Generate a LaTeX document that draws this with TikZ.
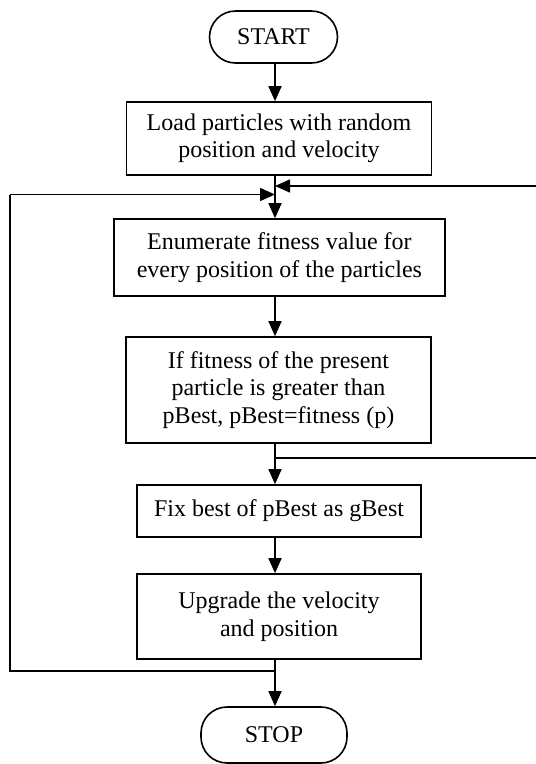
\documentclass[tikz,border=0pt]{standalone}
\usepackage{fontspec}
\setmainfont{Liberation Serif}
\usetikzlibrary{arrows.meta}
\begin{document}
\begin{tikzpicture}[x=1pt,y=-1pt,
  every node/.style={font=\fontsize{24}{27.5}\selectfont, align=center, inner sep=0pt},
  procbox/.style={draw, line width=1.6pt, rectangle},
  termbox/.style={draw, line width=1.6pt, rectangle, rounded corners=26pt},
  flow/.style={line width=1.6pt, -{Triangle[length=15pt,width=13pt]}},
  plain/.style={line width=1.6pt}]
\useasboundingbox (0,0) rectangle (536,764);
\coordinate (m) at (275,0);
\node[termbox, minimum width=128pt, minimum height=52pt] (start) at (273.5,37) {START};
\node[procbox, minimum width=305pt, minimum height=73pt] (b1) at (279,138.5) {Load particles with random\\position and velocity};
\node[procbox, minimum width=331pt, minimum height=77pt] (b2) at (279.4,257.5) {Enumerate fitness value for\\every position of the particles};
\node[procbox, minimum width=305pt, minimum height=106pt] (b3) at (278.5,390) {If fitness of the present\\particle is greater than\\pBest, pBest=fitness (p)};
\node[procbox, minimum width=284pt, minimum height=52pt] (b4) at (279,511) {Fix best of pBest as gBest};
\node[procbox, minimum width=284pt, minimum height=85pt] (b5) at (279,616.5) {Upgrade the velocity\\and position};
\node[termbox, minimum width=146pt, minimum height=56pt] (stop) at (274,735) {STOP};
\coordinate (jr) at (275,186);
\coordinate (jl) at (275,194.5);
\coordinate (br) at (275,458);
\coordinate (bl) at (275,671);
\coordinate (re) at (545,458);
\coordinate (rt) at (545,186);
\coordinate (lb) at (10,671);
\coordinate (lt) at (10,194.5);
\draw[flow] (start.south -| m) -- (b1.north -| m);
\draw[flow] (b1.south -| m) -- (b2.north -| m);
\draw[flow] (b2.south -| m) -- (b3.north -| m);
\draw[flow] (b3.south -| m) -- (b4.north -| m);
\draw[flow] (b4.south -| m) -- (b5.north -| m);
\draw[flow] (b5.south -| m) -- (stop.north -| m);
\draw[plain] (br) -- (re) -- (rt);
\draw[flow] (rt) -- (jr);
\draw[plain] (bl) -- (lb) -- (lt);
\draw[flow] (lt) -- (jl);
\end{tikzpicture}
\end{document}
